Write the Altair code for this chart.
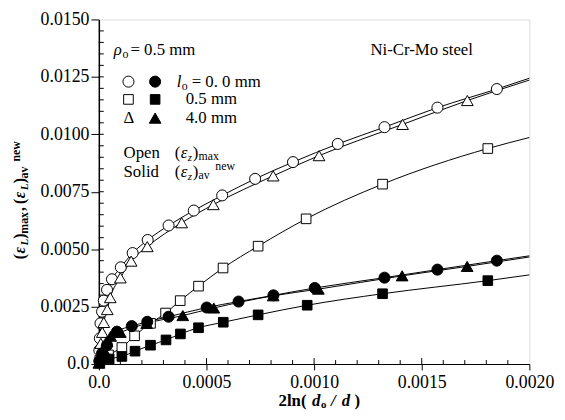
import altair as alt
import pandas as pd

# ---------------- data ----------------
# x = 2ln(do/d), y = strain
oc_x = [0.0000023, 0.0000046, 0.0000078, 0.000015, 0.000023, 0.000038, 0.000061, 0.000102, 0.000157,
        0.000227, 0.000324, 0.000441, 0.000573, 0.000726, 0.000902, 0.00111, 0.001327, 0.001573, 0.001849]
oc_y = [0.0006, 0.00112, 0.00177, 0.00228, 0.00276, 0.00323, 0.00369, 0.00421, 0.00483,
        0.00540, 0.00603, 0.00668, 0.00734, 0.00806, 0.00879, 0.00958, 0.01031, 0.01116, 0.01197]

ot_x = [0.0000092, 0.000016, 0.000023, 0.000039, 0.000053, 0.0001, 0.00015, 0.000225, 0.000385,
        0.000532, 0.00081, 0.001023, 0.001411, 0.001712]
ot_y = [0.0009, 0.00138, 0.00181, 0.00237, 0.00289, 0.00375, 0.00448, 0.00511, 0.00615,
        0.00694, 0.00819, 0.00907, 0.01043, 0.01147]

os_x = [0.0000046, 0.000045, 0.000107, 0.000166, 0.00024, 0.00031, 0.000378, 0.000463, 0.000577,
        0.00074, 0.000963, 0.001318, 0.001807]
os_y = [0.00017, 0.0004, 0.00072, 0.00123, 0.00177, 0.00222, 0.00276, 0.00339, 0.00418,
        0.00513, 0.00632, 0.00783, 0.00938]

cc_x = [0.000002, 0.000015, 0.000038, 0.000084, 0.000153, 0.000225, 0.000324, 0.000501, 0.000649,
        0.000811, 0.001003, 0.001327, 0.001573, 0.001849]
cc_y = [0.00013, 0.00047, 0.00082, 0.00141, 0.00165, 0.00184, 0.00206, 0.00246, 0.00272,
        0.00299, 0.00331, 0.00376, 0.00411, 0.00450]

ct_x = [0.0, 0.0000078, 0.000023, 0.000038, 0.000055, 0.0001, 0.000222, 0.00039, 0.000534,
        0.00081, 0.00102, 0.001409, 0.001711]
ct_y = [0.00004, 0.00033, 0.00062, 0.00098, 0.00121, 0.00138, 0.00177, 0.00211, 0.00244,
        0.00297, 0.00326, 0.00384, 0.00425]

cs_x = [0.0000046, 0.000048, 0.000107, 0.000168, 0.00024, 0.000312, 0.000379, 0.000463, 0.000578,
        0.00074, 0.000968, 0.001318, 0.001807]
cs_y = [0.00004, 0.00022, 0.00033, 0.00056, 0.00082, 0.00105, 0.00131, 0.00158, 0.00182,
        0.00214, 0.00256, 0.00306, 0.00363]

# fitted curves: value reached at the right edge (x = 0.0020)
curve_end_x = 0.0020
curve_end = {"oc": 0.01244, "ot": 0.01236, "os": 0.00986, "cc": 0.00471, "ct": 0.00466, "cs": 0.00388}

x_ticks = [0.0, 0.0005, 0.0010, 0.0015, 0.0020]
y_ticks = [0.0, 0.0025, 0.0050, 0.0075, 0.0100, 0.0125, 0.0150]
x_minor = [0.0001, 0.0002, 0.0003, 0.0004, 0.0006, 0.0007, 0.0008, 0.0009, 0.0011, 0.0012,
           0.0013, 0.0014, 0.0016, 0.0017, 0.0018, 0.0019]
y_minor = [0.0005, 0.0010, 0.0015, 0.0020, 0.0030, 0.0035, 0.0040, 0.0045, 0.0055, 0.0060,
           0.0065, 0.0070, 0.0080, 0.0085, 0.0090, 0.0095, 0.0105, 0.0110, 0.0115, 0.0120,
           0.0130, 0.0135, 0.0140, 0.0145]

series = {
    "oc": (oc_x, oc_y, "circle", False),
    "ot": (ot_x, ot_y, "triangle-up", False),
    "os": (os_x, os_y, "square", False),
    "cc": (cc_x, cc_y, "circle", True),
    "ct": (ct_x, ct_y, "triangle-up", True),
    "cs": (cs_x, cs_y, "square", True),
}
sizes = {"circle": 125, "triangle-up": 140, "square": 95}

W, H = 436, 349
SERIF = "Times New Roman, Liberation Serif, Times, serif"

xs = alt.Scale(domain=[0, 0.002], nice=False, zero=False)
ys = alt.Scale(domain=[0, 0.015], nice=False, zero=False)

label_expr = "datum.value == 0 ? '0.0' : format(datum.value, '.4f')"
x_axis = alt.Axis(values=x_ticks, labelExpr=label_expr, title=None, grid=False, tickSize=6,
                  labelPadding=4, labelFont=SERIF, labelFontSize=18, labelColor="black",
                  tickColor="black", domainColor="black", domainWidth=1.2, labelFlush=False)
y_axis = alt.Axis(values=y_ticks, labelExpr=label_expr, title=None, grid=False, tickSize=8,
                  labelPadding=2, labelFont=SERIF, labelFontSize=18, labelColor="black",
                  tickColor="black", domainColor="black", domainWidth=1.5, labelFlush=False)

layers = []

# axes carrier (invisible)
base_df = pd.DataFrame({"x": [0.0], "y": [0.0]})
layers.append(alt.Chart(base_df).mark_point(opacity=0).encode(
    x=alt.X("x:Q", scale=xs, axis=x_axis), y=alt.Y("y:Q", scale=ys, axis=y_axis)))

# inside ticks
layers.append(alt.Chart(pd.DataFrame({"v": x_minor})).mark_rule(color="black", strokeWidth=1).encode(
    x=alt.X("v:Q", scale=xs), y=alt.value(H), y2=alt.value(H - 4)))
layers.append(alt.Chart(pd.DataFrame({"v": x_ticks[1:-1]})).mark_rule(color="black", strokeWidth=1).encode(
    x=alt.X("v:Q", scale=xs), y=alt.value(H), y2=alt.value(H - 6)))
layers.append(alt.Chart(pd.DataFrame({"v": y_minor + y_ticks[1:-1]})).mark_rule(color="black", strokeWidth=1).encode(
    y=alt.Y("v:Q", scale=ys), x=alt.value(0), x2=alt.value(5)))

# curves
for key in ["oc", "ot", "os", "cc", "ct", "cs"]:
    sx, sy, shape, filled = series[key]
    df = pd.DataFrame({"x": [0.0] + sx + [curve_end_x], "y": [0.0] + sy + [curve_end[key]]})
    layers.append(alt.Chart(df).mark_line(color="black", strokeWidth=1, interpolate="monotone").encode(
        x=alt.X("x:Q", scale=xs), y=alt.Y("y:Q", scale=ys)))

# points
for key in ["oc", "ot", "os", "cc", "ct", "cs"]:
    sx, sy, shape, filled = series[key]
    df = pd.DataFrame({"x": sx, "y": sy})
    layers.append(alt.Chart(df).mark_point(
        shape=shape, size=sizes[shape], filled=True, fill="black" if filled else "white",
        stroke="black", strokeWidth=1, opacity=1).encode(
        x=alt.X("x:Q", scale=xs), y=alt.Y("y:Q", scale=ys)))


def txt(text, x, y, size=17, weight="normal", style="normal", align="left", angle=0):
    return alt.Chart(base_df).mark_text(
        text=text, font=SERIF, fontSize=size, fontWeight=weight, fontStyle=style,
        align=align, baseline="alphabetic", angle=angle, color="black").encode(
        x=alt.value(x), y=alt.value(y))


def sym(shape, filled, x, y):
    return alt.Chart(base_df).mark_point(
        shape=shape, size=sizes[shape], filled=True, fill="black" if filled else "white",
        stroke="black", strokeWidth=1, opacity=1).encode(x=alt.value(x), y=alt.value(y))

# legend / annotations (plot-relative pixel positions)
layers += [
    txt("ρ", 15, 36, style="italic"),
    txt("o", 24, 39, size=12),
    txt("= 0.5 mm", 32, 36),
    txt("Ni-Cr-Mo steel", 275, 36),
    sym("circle", False, 30, 63), sym("circle", True, 57, 63),
    txt("l", 79, 68, style="italic"), txt("o", 84, 71, size=12), txt("= 0. 0 mm", 94, 68),
    sym("square", False, 30, 81), sym("square", True, 57, 81),
    txt("0.5 mm", 88, 86),
    txt("Δ", 25, 105),
    sym("triangle-up", True, 57, 100),
    txt("4.0 mm", 88, 105),
    txt("Open", 25, 140), txt("(", 77, 140), txt("ε", 83, 140, style="italic"),
    txt("z", 90, 143, size=11, style="italic"), txt(")", 95, 140), txt("max", 101, 142, size=12),
    txt("Solid", 25, 160), txt("(", 77, 160), txt("ε", 83, 160, style="italic"),
    txt("z", 90, 163, size=11, style="italic"), txt(")", 95, 160), txt("av", 101, 162, size=12),
    txt("new", 118, 152, size=12),
]

# x-axis title: 2ln( do / d )
XT = 391
layers += [
    txt("2ln(", 182, XT, size=17, weight="bold"),
    txt("d", 216, XT, size=17, weight="bold", style="italic"),
    txt("o", 225, XT + 3, size=11, weight="bold"),
    txt("/", 235, XT, size=17, weight="bold", style="italic"),
    txt("d", 246, XT, size=17, weight="bold", style="italic"),
    txt(")", 259, XT, size=17, weight="bold"),
]

# y-axis title, rotated: (εL)max , (εL)av new
YB = -75
layers += [
    txt("(", YB, 243, size=16, weight="bold", angle=270),
    txt("ε", YB, 237, size=16, weight="bold", style="italic", angle=270),
    txt("L", YB + 3, 229, size=11, weight="bold", style="italic", angle=270),
    txt(")", YB, 222, size=16, weight="bold", angle=270),
    txt("max", YB + 3, 217, size=12, weight="bold", angle=270),
    txt(",", YB, 194, size=16, weight="bold", angle=270),
    txt("(", YB, 187, size=16, weight="bold", angle=270),
    txt("ε", YB, 181, size=16, weight="bold", style="italic", angle=270),
    txt("L", YB + 3, 173, size=11, weight="bold", style="italic", angle=270),
    txt(")", YB, 166, size=16, weight="bold", angle=270),
    txt("av", YB + 3, 161, size=12, weight="bold", angle=270),
    txt("new", YB - 5, 144, size=12, weight="bold", angle=270),
]

chart = alt.layer(*layers).properties(
    width=W, height=H,
    autosize=alt.AutoSizeParams(type="none"),
    padding={"left": 92, "top": 9, "right": 28, "bottom": 46},
).configure_view(stroke="black", strokeWidth=1).configure(background="white")

chart.save("out.html", embed_options={"renderer": "svg", "actions": False})
